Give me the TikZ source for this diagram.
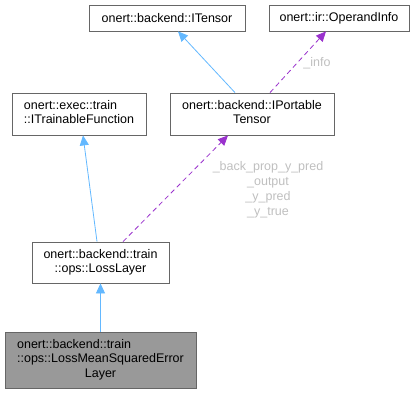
\documentclass[tikz,border=0pt]{standalone}
\usepackage{fontspec}
\setmainfont{Liberation Sans}
\usetikzlibrary{arrows.meta}
\definecolor{boxline}{HTML}{666666}
\definecolor{inherit}{HTML}{63B8FF}
\definecolor{usage}{HTML}{9A32CD}
\definecolor{lbl}{HTML}{BFBFBF}
\definecolor{current}{HTML}{999999}
\begin{document}
\begin{tikzpicture}[x=1pt,y=1pt,
  cls/.style={draw=boxline, line width=0.8pt, fill=white, inner sep=0pt,
    font=\fontsize{12.5}{14.2}\selectfont},
  inh/.style={draw=inherit, line width=0.8pt, -{Triangle[length=10pt,width=9pt]}},
  use/.style={draw=usage, line width=0.8pt, dash pattern=on 5pt off 3.5pt,
    -{Triangle[length=10pt,width=9pt]}},
  elabel/.style={text=lbl, font=\fontsize{12.5}{15}\selectfont, align=center, inner sep=0pt}]
\useasboundingbox (0,0) rectangle (415,-394);

% class boxes
\node[cls, minimum width=156pt, minimum height=26pt] (itensor) at (167,-18)
  {onert::backend::ITensor};
\node[cls, minimum width=140pt, minimum height=26pt] (opinfo) at (339,-18)
  {onert::ir::OperandInfo};
\node[cls, minimum width=134pt, minimum height=42pt] (itrain) at (79,-114)
  {\begin{tabular}{@{}l@{}}onert::exec::train\\::ITrainableFunction\end{tabular}};
\node[cls, minimum width=164pt, minimum height=42pt] (iport) at (252,-114)
  {\begin{tabular}{@{}l@{}}onert::backend::IPortable\\\multicolumn{1}{@{}c@{}}{Tensor}\end{tabular}};
\node[cls, minimum width=137pt, minimum height=41pt] (loss) at (100.5,-262.5)
  {\begin{tabular}{@{}l@{}}onert::backend::train\\\multicolumn{1}{@{}c@{}}{::ops::LossLayer}\end{tabular}};
\node[cls, fill=current, minimum width=191pt, minimum height=56pt] (mse) at (100.5,-360)
  {\begin{tabular}{@{}l@{}}onert::backend::train\\::ops::LossMeanSquaredError\\\multicolumn{1}{@{}c@{}}{Layer}\end{tabular}};

% inheritance
\draw[inh] ([xshift=-17pt]iport.north) -- ([xshift=11pt]itensor.south);
\draw[inh] ([xshift=-3.5pt]loss.north) -- ([xshift=4pt]itrain.south);
\draw[inh] (mse.north) -- (loss.south);

% member usage
\draw[use] ([xshift=18pt]iport.north) -- ([xshift=-13pt]opinfo.south);
\draw[use] ([xshift=22.5pt]loss.north) -- ([xshift=-24pt]iport.south);

% member labels
\node[elabel] (linfo) at (317,-63) {\_info};
\node[elabel] (lmembers) at (268,-190)
  {\_back\_prop\_y\_pred\\\_output\\\_y\_pred\\\_y\_true};
\end{tikzpicture}
\end{document}
